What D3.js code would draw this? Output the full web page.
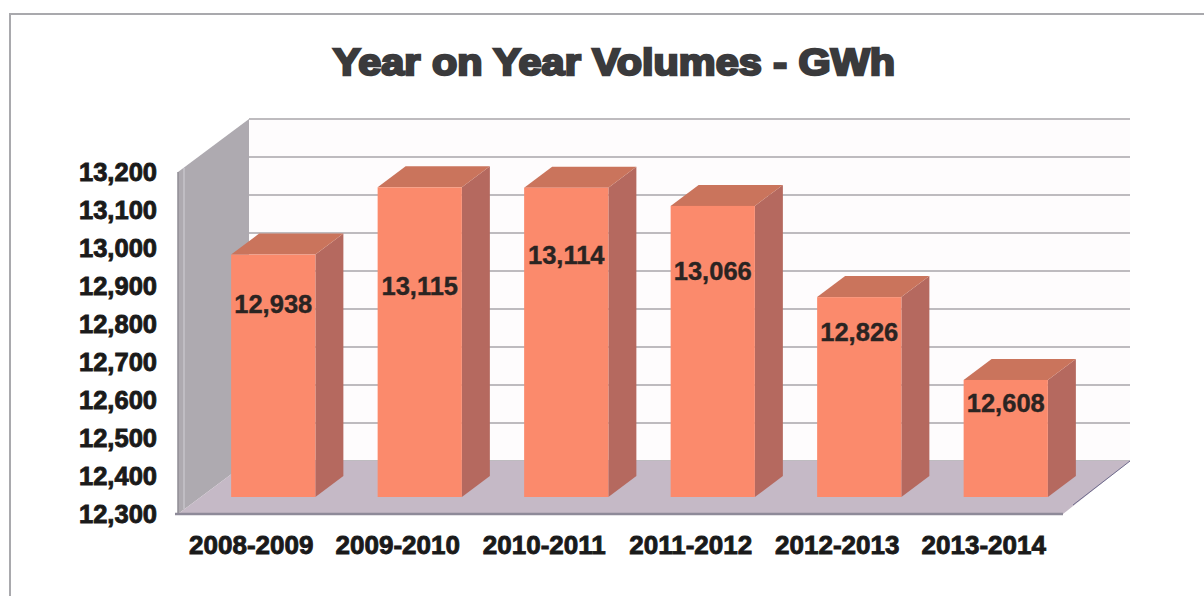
<!DOCTYPE html>
<html>
<head>
<meta charset="utf-8">
<title>Year on Year Volumes - GWh</title>
<script src="https://cdn.jsdelivr.net/npm/d3@7/dist/d3.min.js"></script>
<style>
  html, body { margin: 0; padding: 0; background: #fff; }
  svg { display: block; }
  text { font-family: "Liberation Sans", Arial, sans-serif; font-weight: 700; }
</style>
</head>
<body>
<svg id="chart" width="1204" height="596"></svg>
<script>
// Annual volumes in GWh
const periods = ["2008-2009", "2009-2010", "2010-2011", "2011-2012", "2012-2013", "2013-2014"];
const volumes = [12938, 13115, 13114, 13066, 12826, 12608];
const volumeTicks = [12300, 12400, 12500, 12600, 12700, 12800, 12900, 13000, 13100, 13200];
const chartTitle = "Year on Year Volumes - GWh";

const svg = d3.select("#chart");

const x = d3.scaleBand().domain(periods).range([178, 1057])
  .paddingInner(0.425).paddingOuter(0.2125);
const y = d3.scaleLinear().domain([12300, 13200]).range([514, 172]);

// Oblique projection: full depth of the chart box, and the plane the columns stand on
const wall = { dx: 71, dy: -53 };
const inset = { dx: 22, dy: -17 };
const barDepth = { dx: 28, dy: -21 };

// How far each value label hangs below the top of its column
const labelDrop = [49, 99, 67, 65, 35, 23];

const poly = pts => pts.map(p => p.join(",")).join(" ");

// Outer frame, open on the right and bottom
svg.append("path")
  .attr("d", "M10,596V14H1204")
  .attr("fill", "none").attr("stroke", "#a9a9ad").attr("stroke-width", 2);

const [plotBase, plotTop] = y.range();
const [plotLeft, plotRight] = x.range();

// Back wall
svg.append("rect")
  .attr("x", plotLeft + wall.dx).attr("y", plotTop + wall.dy)
  .attr("width", plotRight - plotLeft + 2).attr("height", plotBase - plotTop)
  .attr("fill", "#fefcfd");

// Side wall
svg.append("polygon")
  .attr("points", poly([[plotLeft, plotTop], [plotLeft + wall.dx, plotTop + wall.dy], [plotLeft + wall.dx, plotBase + wall.dy], [plotLeft, plotBase]]))
  .attr("fill", "#aeaab0");
svg.append("line")
  .attr("x1", plotLeft + 6).attr("x2", plotLeft + 6)
  .attr("y1", plotTop - 4).attr("y2", plotBase - 5)
  .attr("stroke", "#c6c3ca").attr("stroke-width", 1.5);
svg.append("line")
  .attr("x1", plotLeft).attr("x2", plotLeft).attr("y1", plotTop).attr("y2", plotBase)
  .attr("stroke", "#8f8c94").attr("stroke-width", 1.5);

// Gridlines on the back wall
svg.append("g").selectAll("line").data(volumeTicks).join("line")
  .attr("x1", plotLeft + wall.dx).attr("x2", plotRight + wall.dx + 2)
  .attr("y1", d => y(d) + wall.dy).attr("y2", d => y(d) + wall.dy)
  .attr("stroke", "#a8a6aa").attr("stroke-width", 1.5);

// Floor
svg.append("polygon")
  .attr("points", poly([[plotLeft, plotBase], [plotLeft + wall.dx, plotBase + wall.dy], [plotRight + wall.dx + 2, plotBase + wall.dy], [plotRight + 6, plotBase]]))
  .attr("fill", "#c5b9c6");
svg.append("line")
  .attr("x1", plotRight + 16).attr("y1", plotBase - 9)
  .attr("x2", plotRight + wall.dx + 2).attr("y2", plotBase + wall.dy)
  .attr("stroke", "#6f6c8e").attr("stroke-width", 1);
svg.append("line")
  .attr("x1", plotLeft - 3).attr("x2", plotRight + 6).attr("y1", plotBase).attr("y2", plotBase)
  .attr("stroke", "#8e8a99").attr("stroke-width", 2.5);

// Columns: side, top, then front face
const bars = svg.append("g").selectAll("g")
  .data(periods.map((p, i) => ({ period: p, value: volumes[i], drop: labelDrop[i] })))
  .join("g");

const fx0 = d => x(d.period) + inset.dx;
const fx1 = d => fx0(d) + x.bandwidth();
const fyTop = d => y(d.value) + inset.dy;
const fyBase = plotBase + inset.dy;

bars.append("polygon")
  .attr("points", d => poly([
    [fx1(d), fyTop(d)], [fx1(d) + barDepth.dx, fyTop(d) + barDepth.dy],
    [fx1(d) + barDepth.dx, fyBase + barDepth.dy], [fx1(d), fyBase]]))
  .attr("fill", "#b5695f");

bars.append("polygon")
  .attr("points", d => poly([
    [fx0(d), fyTop(d)], [fx0(d) + barDepth.dx, fyTop(d) + barDepth.dy],
    [fx1(d) + barDepth.dx, fyTop(d) + barDepth.dy], [fx1(d), fyTop(d)]]))
  .attr("fill", "#ca745c");

bars.append("rect")
  .attr("x", fx0).attr("y", fyTop)
  .attr("width", x.bandwidth()).attr("height", d => fyBase - fyTop(d))
  .attr("fill", "#fb8a6c");

bars.append("text")
  .attr("x", d => (fx0(d) + fx1(d)) / 2)
  .attr("y", d => fyTop(d) + d.drop)
  .attr("dy", "0.36em")
  .attr("text-anchor", "middle")
  .attr("font-size", 25.5)
  .attr("fill", "#2a2422")
  .attr("stroke", "#2a2422").attr("stroke-width", 0.4)
  .text(d => d3.format(",")(d.value));

// Value axis
const yAxis = svg.append("g")
  .attr("transform", `translate(${plotLeft},0)`)
  .call(d3.axisLeft(y).tickValues(volumeTicks).tickFormat(d3.format(",")).tickSize(0).tickPadding(21));
yAxis.select(".domain").remove();
yAxis.selectAll("text")
  .attr("font-size", 25.5).attr("fill", "#1a1a1a")
  .attr("stroke", "#1a1a1a").attr("stroke-width", 0.9);

// Category axis
const xAxis = svg.append("g")
  .attr("transform", `translate(0,${plotBase})`)
  .call(d3.axisBottom(x).tickSize(0).tickPadding(22));
xAxis.select(".domain").remove();
xAxis.selectAll("text")
  .attr("font-size", 26).attr("fill", "#1a1a1a")
  .attr("stroke", "#1a1a1a").attr("stroke-width", 0.9);

// Title, stretched to its wide heavy setting
svg.append("text")
  .attr("x", 333).attr("y", 75)
  .attr("textLength", 562).attr("lengthAdjust", "spacingAndGlyphs")
  .attr("font-size", 37)
  .attr("fill", "#3a3a3c").attr("stroke", "#3a3a3c").attr("stroke-width", 2.4)
  .text(chartTitle);
</script>
</body>
</html>
